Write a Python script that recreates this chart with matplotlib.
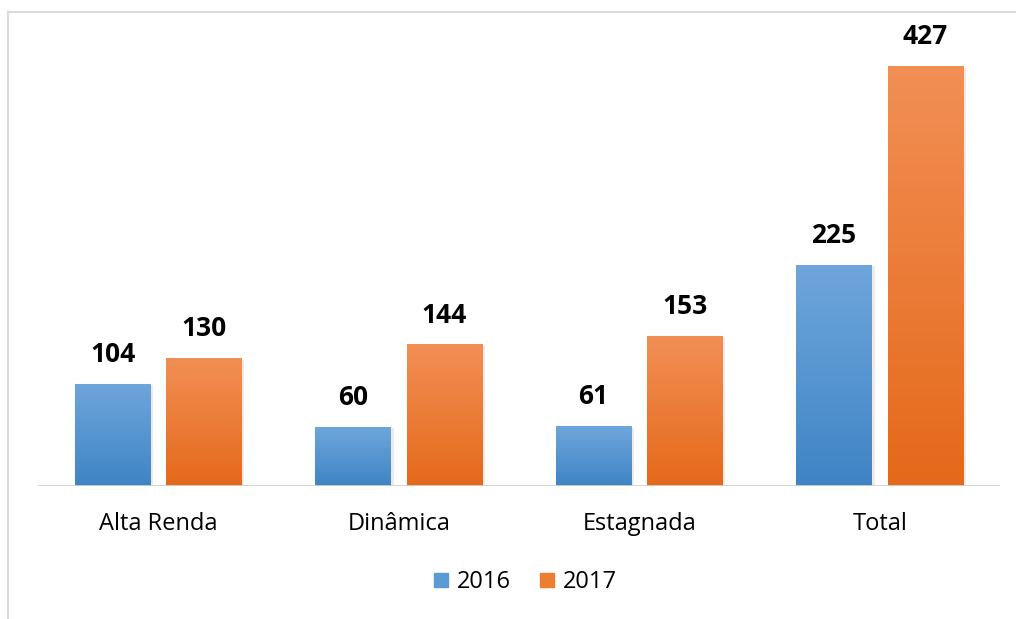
import numpy as np
import matplotlib.pyplot as plt
from matplotlib.colors import LinearSegmentedColormap
from matplotlib.lines import Line2D

categorias = ["Alta Renda", "Dinâmica", "Estagnada", "Total"]
anos = ["2016", "2017"]
valores_2016 = [104, 60, 61, 225]
valores_2017 = [130, 144, 153, 427]

plt.rcParams['font.family'] = ['Open Sans', 'DejaVu Sans']

fig = plt.figure(figsize=(10.16, 6.19), dpi=100)
ax = fig.add_axes([38/1016, (619-486)/619, 962/1016, 466/619])

x = np.arange(len(categorias))
w = 0.3125
desloc = 0.19

azul = LinearSegmentedColormap.from_list("azul", ["#3f84c5", "#6ea6db"])
laranja = LinearSegmentedColormap.from_list("laranja", ["#e4691a", "#f28f55"])
grad = np.linspace(0, 1, 256).reshape(-1, 1)

def barras(pos, vals, cmap, cor):
    bs = ax.bar(pos, vals, w, color=cor, zorder=2)
    for b, v in zip(bs, vals):
        x0 = b.get_x()
        # sombra leve
        ax.bar(x0 + w/2 + 0.012, v, w, bottom=-1.5, color='#000000', alpha=0.08, zorder=1)
        im = ax.imshow(grad, cmap=cmap, aspect='auto', origin='lower',
                       extent=[x0, x0 + w, 0, v], zorder=3)
        im.set_clip_path(b)
        ax.text(x0 + w/2, v + 16, str(v), ha='center', va='bottom',
                fontsize=19, fontweight='bold', color='black', zorder=4)
    return bs

barras(x - desloc, valores_2016, azul, '#5b9bd5')
barras(x + desloc, valores_2017, laranja, '#ed7d31')

ax.set_xlim(-0.5, 3.5)
ax.set_ylim(0, 474)
ax.axhline(0, color='#d0d0d0', lw=2, zorder=5)
for s in ax.spines.values():
    s.set_visible(False)
ax.set_yticks([])
ax.set_xticks(x)
ax.set_xticklabels(categorias, fontsize=17)
ax.tick_params(axis='x', length=0, pad=19)

handles = [Line2D([], [], marker='s', ls='', markersize=10.5, color='#5b9bd5'),
           Line2D([], [], marker='s', ls='', markersize=10.5, color='#ed7d31')]
fig.legend(handles, anos, loc='center', bbox_to_anchor=(525/1016, 1 - 582/619),
           ncol=2, frameon=False, fontsize=17, handlelength=0.7,
           handletextpad=0.3, columnspacing=1.2)

# moldura
fig.add_artist(Line2D([8/1016, 8/1016], [0, 1 - 12/619], color='#d9d9d9', lw=1.5))
fig.add_artist(Line2D([8/1016, 1], [1 - 12/619, 1 - 12/619], color='#d9d9d9', lw=1.5))

fig.savefig("out.png", dpi=100)
